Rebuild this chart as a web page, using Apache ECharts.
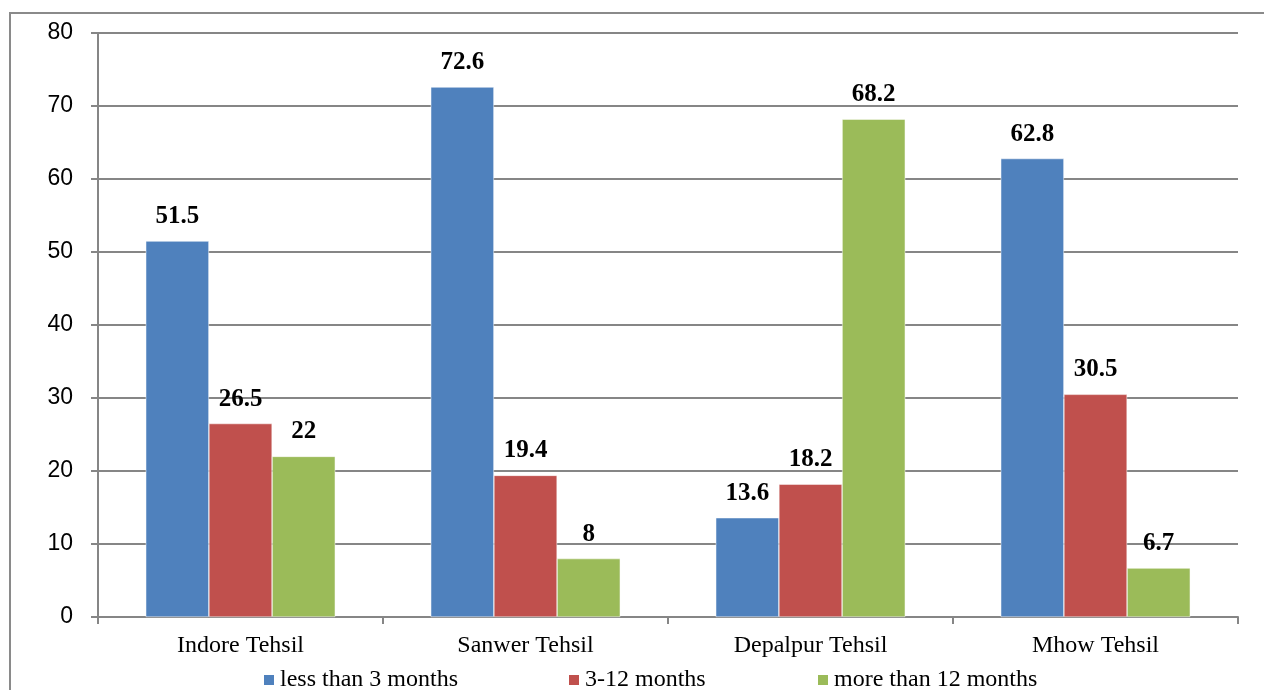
<!DOCTYPE html>
<html>
<head>
<meta charset="utf-8">
<script src="https://cdn.jsdelivr.net/npm/echarts@6/dist/echarts.min.js"></script>
<style>
  html, body { margin: 0; padding: 0; background: #fff; }
  #chart { width: 1264px; height: 690px; }
</style>
</head>
<body>
<div id="chart"></div>
<script>
// Duration categories per tehsil (percent)
const categories = ['Indore Tehsil', 'Sanwer Tehsil', 'Depalpur Tehsil', 'Mhow Tehsil'];
const seriesNames = ['less than 3 months', '3-12 months', 'more than 12 months'];
const lessThan3 = [51.5, 72.6, 13.6, 62.8];
const from3To12 = [26.5, 19.4, 18.2, 30.5];
const moreThan12 = [22, 8, 68.2, 6.7];
const yTicks = { min: 0, max: 80, interval: 10 };

const colors = ['#4f81bd', '#c0504d', '#9bbb59'];
const values = [lessThan3, from3To12, moreThan12];
const legendLeft = [262, 567, 816];

const chart = echarts.init(document.getElementById('chart'));
chart.setOption({
  animation: false,
  color: colors,
  graphic: [{
    type: 'rect',
    shape: { x: 10, y: 13, width: 1262, height: 700 },
    style: { fill: 'none', stroke: '#8a8a8a', lineWidth: 2 },
    silent: true
  }],
  grid: { left: 98, right: 26, top: 33, bottom: 73, containLabel: false },
  legend: seriesNames.map((name, i) => ({
    data: [name],
    left: legendLeft[i],
    top: 668,
    padding: 0,
    itemWidth: 12,
    itemHeight: 12,
    icon: 'rect',
    textStyle: { fontFamily: 'Liberation Serif', fontSize: 24, color: '#000' }
  })),
  xAxis: {
    type: 'category',
    data: categories,
    axisLine: { lineStyle: { color: '#868686', width: 2 } },
    axisTick: { show: true, length: 7, lineStyle: { color: '#868686', width: 2 } },
    axisLabel: { fontFamily: 'Liberation Serif', fontSize: 24, color: '#000', margin: 17 }
  },
  yAxis: {
    type: 'value',
    min: yTicks.min,
    max: yTicks.max,
    interval: yTicks.interval,
    axisLine: { show: true, lineStyle: { color: '#868686', width: 2 } },
    axisTick: { show: true, length: 7, lineStyle: { color: '#868686', width: 2 } },
    splitLine: { lineStyle: { color: '#868686', width: 2 } },
    axisLabel: { fontFamily: 'Liberation Sans', fontSize: 23, color: '#000', margin: 25 }
  },
  series: values.map((v, i) => ({
    name: seriesNames[i],
    type: 'bar',
    data: v,
    barGap: '0%',
    barCategoryGap: '33.5%',
    itemStyle: { borderColor: '#ffffff', borderWidth: 0.5 },
    label: {
      show: true,
      position: 'top',
      distance: 12,
      fontFamily: 'Liberation Serif',
      fontWeight: 'bold',
      fontSize: 25,
      lineHeight: 25,
      color: '#000'
    }
  }))
});
</script>
</body>
</html>
